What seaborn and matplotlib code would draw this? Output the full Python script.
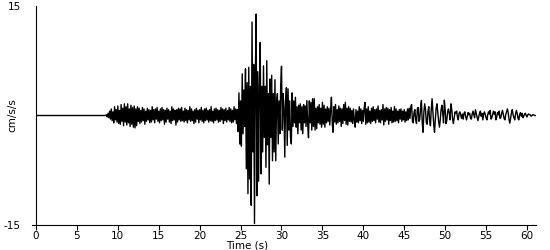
import numpy as np
import pandas as pd
import matplotlib
matplotlib.use("Agg")
import matplotlib.pyplot as plt
import seaborn as sns

# ---- data (cm/s/s) ----
dt = 0.1                  # sample spacing of the transcription (s)
quiet = [0.0] * 85        # flat record, 0.0 .. 8.4 s

accel_8 = [0.0, 0.1, -0.2, 0.3, -0.3]
accel_9 = [0.6, -0.5, 0.9, -0.7, 0.5, -1.0, 1.2, -0.6, 0.8, -0.9]
accel_10 = [1.3, -1.1, 0.7, -1.2, 1.5, -0.8, 1.0, -1.4, 1.6, -0.9]
accel_11 = [1.2, -1.3, 1.6, -1.0, 0.9, -1.5, 1.4, -1.2, 1.1, -1.6]
accel_12 = [1.3, -1.7, 0.9, -1.4, 1.2, -0.8, 1.0, -1.1, 0.7, -0.9]
accel_13 = [1.1, -0.7, 0.9, -1.2, 0.6, -0.8, 1.0, -0.6, 0.8, -1.0]
accel_14 = [0.7, -0.9, 1.2, -0.6, 0.8, -1.0, 0.9, -0.5, 1.1, -0.8]
accel_15 = [0.6, -1.0, 0.9, -0.7, 1.1, -0.6, 0.8, -1.2, 0.7, -0.9]
accel_16 = [1.0, -0.5, 0.8, -0.9, 0.6, -1.1, 1.2, -0.7, 0.9, -0.6]
accel_17 = [0.7, -1.3, 0.8, -0.9, 1.0, -0.6, 0.9, -0.8, 1.1, -0.7]
accel_18 = [0.6, -0.9, 1.0, -0.7, 0.8, -1.0, 0.7, -0.6, 1.2, -0.8]
accel_19 = [0.9, -0.7, 0.6, -1.1, 0.8, -0.9, 1.0, -0.5, 0.7, -1.0]
accel_20 = [0.8, -0.6, 1.1, -0.8, 0.7, -1.0, 0.9, -0.7, 1.0, -0.6]
accel_21 = [0.7, -0.9, 0.8, -0.7, 1.2, -0.8, 0.6, -1.0, 0.9, -0.7]
accel_22 = [1.0, -0.6, 0.8, -0.9, 0.7, -0.8, 1.1, -0.6, 0.9, -1.1]
accel_23 = [0.8, -0.7, 1.0, -0.9, 0.7, -0.6, 1.1, -0.8, 0.9, -1.0]
accel_24 = [0.7, -0.9, 1.2, -0.6, 0.9, -1.1, 0.8, -2.2, 3.1, -3.9]
accel_25 = [2.0, -4.2, 5.7, -2.5, 3.5, -1.5, 6.4, -7.3, 4.5, -10.7]
accel_26 = [6.6, -8.7, 4.0, -12.3, 12.8, -5.0, 7.0, -14.8, 5.0, 13.9]
accel_27 = [-11.0, 6.0, -9.0, 4.0, 10.0, -8.0, 4.0, -5.0, 6.8, -3.0]
accel_28 = [4.0, -7.1, 7.5, -4.0, 3.0, -9.4, 5.0, -3.0, 5.5, -6.2]
accel_29 = [3.0, -5.0, 4.9, -6.2, 2.0, 3.0, -3.9, 2.0, -2.5, 4.0]
accel_30 = [6.75, -2.0, 3.0, 1.0, -5.7, 2.0, 3.8, -4.1, 3.65, -2.0]
accel_31 = [2.0, -3.0, -3.9, 3.1, -1.5, 2.0, -1.0, 2.5, -1.6, 1.2]
accel_32 = [-2.5, 1.4, -1.0, 1.6, -2.0, 1.2, -2.5, 1.5, -1.0, 1.3]
accel_33 = [-1.5, 2.05, -1.2, -3.05, 2.0, -1.0, 1.8, -2.0, 2.3, -1.5]
accel_34 = [2.3, -2.0, 1.0, -1.8, 1.2, -1.0, 1.5, -1.2, 1.0, -1.6]
accel_35 = [1.8, -1.2, 1.4, -1.6, 0.9, -1.0, 1.2, -0.8, 1.0, -1.3]
accel_36 = [0.8, 2.5, -1.0, -2.3, 1.2, -0.9, 1.5, -1.2, 0.8, -1.0]
accel_37 = [1.3, -0.8, 1.0, -1.5, 0.9, -1.1, 1.5, -0.7, 1.8, -1.2]
accel_38 = [1.0, -1.3, 1.2, -0.8, 1.0, -0.9, 0.7, -1.1, 0.9, -0.6]
accel_39 = [-1.6, 0.8, -0.9, 0.6, -1.0, 1.2, -0.7, 0.9, -1.1, 0.7]
accel_40 = [-0.8, 1.0, 1.8, -1.2, 0.9, -1.0, 1.2, -0.9, 0.6, -1.1]
accel_41 = [1.0, -0.8, 1.2, -0.7, 0.8, -1.0, 0.9, -0.5, 1.3, -0.9]
accel_42 = [0.7, -1.0, 0.8, -0.6, 1.5, -1.3, 0.9, -0.8, 1.1, -0.6]
accel_43 = [1.0, -1.2, 0.8, -0.7, 1.1, -1.0, 0.6, -0.9, 1.2, -0.8]
accel_44 = [0.9, -0.7, 0.6, -1.0, 0.8, -0.5, 0.9, -0.8, 0.6, -0.6]
accel_45 = [0.8, -0.9, 0.5, -0.7, 0.9, -0.6, 1.0, -0.4, 1.2, 1.5]
accel_46 = [-0.8, -1.0, 0.5, 0.8, -0.6, -1.1, 0.9, 1.1, -0.8, -0.5]
accel_47 = [1.2, 2.05, -1.0, -2.3, 0.5, 1.6, 0.8, -1.0, -1.2, 0.6]
accel_48 = [1.2, -0.6, -1.4, 0.8, 2.3, 0.5, -1.2, -2.3, -0.5, 1.0]
accel_49 = [1.6, 0.4, -0.8, -1.6, -0.6, 0.8, 1.4, 0.3, -1.0, 2.1]
accel_50 = [0.8, -1.1, -0.7, 0.5, 0.9, 0.3, -0.6, 1.6, 0.9, -0.4]
accel_51 = [-1.1, -0.4, 0.5, 0.3, 0.6, -0.2, -0.6, 0.3, 0.5, 0.1]
accel_52 = [-0.4, 0.2, -0.5, 0.3, 0.5, -0.1, -0.6, -0.2, 0.4, 0.1]
accel_53 = [0.3, -0.4, -0.5, 0.2, 0.6, 0.1, -0.3, 0.8, 0.3, -0.2]
accel_54 = [-0.7, -0.2, 0.3, 0.6, -0.1, 0.3, -0.6, 0.2, 0.5, 0.1]
accel_55 = [-0.3, -0.6, 0.1, 0.5, 0.2, 0.7, -0.5, -0.3, 0.1, 0.6]
accel_56 = [0.2, 0.5, -0.6, -0.2, 0.4, 0.1, 0.6, -0.4, -0.3, 0.3]
accel_57 = [0.7, 0.2, -0.4, -0.6, 0.1, 0.5, 0.9, 0.4, -0.5, -1.05]
accel_58 = [-0.4, 0.4, 0.8, 0.1, -0.3, -0.6, 0.2, 0.7, 0.3, -0.4]
accel_59 = [-0.6, 0.1, 0.4, -0.1, 0.3, -0.3, -0.1, 0.2, 0.3, 0.0]
accel_60 = [-0.2, 0.1, 0.2, 0.1, 0.1, -0.1, 0.0, 0.1, 0.1, 0.0]
accel_61 = [0.0, 0.0]

x_ticks = [0, 5, 10, 15, 20, 25, 30, 35, 40, 45, 50, 55, 60]
y_ticks = [-15, 15]

segments = [quiet, accel_8] + [globals()[f"accel_{s}"] for s in range(9, 62)]
values = np.concatenate([np.asarray(s, dtype=float) for s in segments])
times = np.arange(len(values)) * dt
df = pd.DataFrame({"Time (s)": times, "cm/s/s": values})

# ---- plot ----
sns.set_style("ticks")
plt.rcParams["font.family"] = ["DejaVu Sans"]
plt.rcParams["text.color"] = "black"
plt.rcParams["axes.labelcolor"] = "black"
plt.rcParams["xtick.color"] = "black"
plt.rcParams["ytick.color"] = "black"
plt.rcParams["axes.edgecolor"] = "black"

fig = plt.figure(figsize=(5.5, 2.5), dpi=100)
ax = fig.add_axes([36 / 550, 25 / 250, 500 / 550, 219 / 250])

sns.lineplot(data=df, x="Time (s)", y="cm/s/s", ax=ax, color="black",
             linewidth=1.0, estimator=None, sort=False)

ax.set_xlim(0, 61.1)
ax.set_ylim(-15, 15)
ax.set_xticks(x_ticks)
ax.set_xticklabels([str(v) for v in x_ticks], fontsize=7.5)
ax.set_yticks(y_ticks)
ax.set_yticklabels([str(v) for v in y_ticks], fontsize=7.5)
ax.tick_params(axis="y", length=0, pad=11, labelcolor="black")
ax.tick_params(axis="x", length=3.5, width=0.8, pad=0.8, color="black",
               labelcolor="black")

ax.set_xlabel("Time (s)", fontsize=7.5, color="black")
ax.xaxis.label.set_va("center")
ax.xaxis.set_label_coords(0.422, -0.093)
ax.set_ylabel("cm/s/s", fontsize=7.5, color="black")
ax.yaxis.set_label_coords(-0.038, 0.5)

for side in ["top", "right"]:
    ax.spines[side].set_visible(False)
for side in ["left", "bottom"]:
    ax.spines[side].set_color("black")
    ax.spines[side].set_linewidth(0.8)
ax.spines["bottom"].set_bounds(-0.45, 61.1)

fig.savefig("out.png", dpi=100)
